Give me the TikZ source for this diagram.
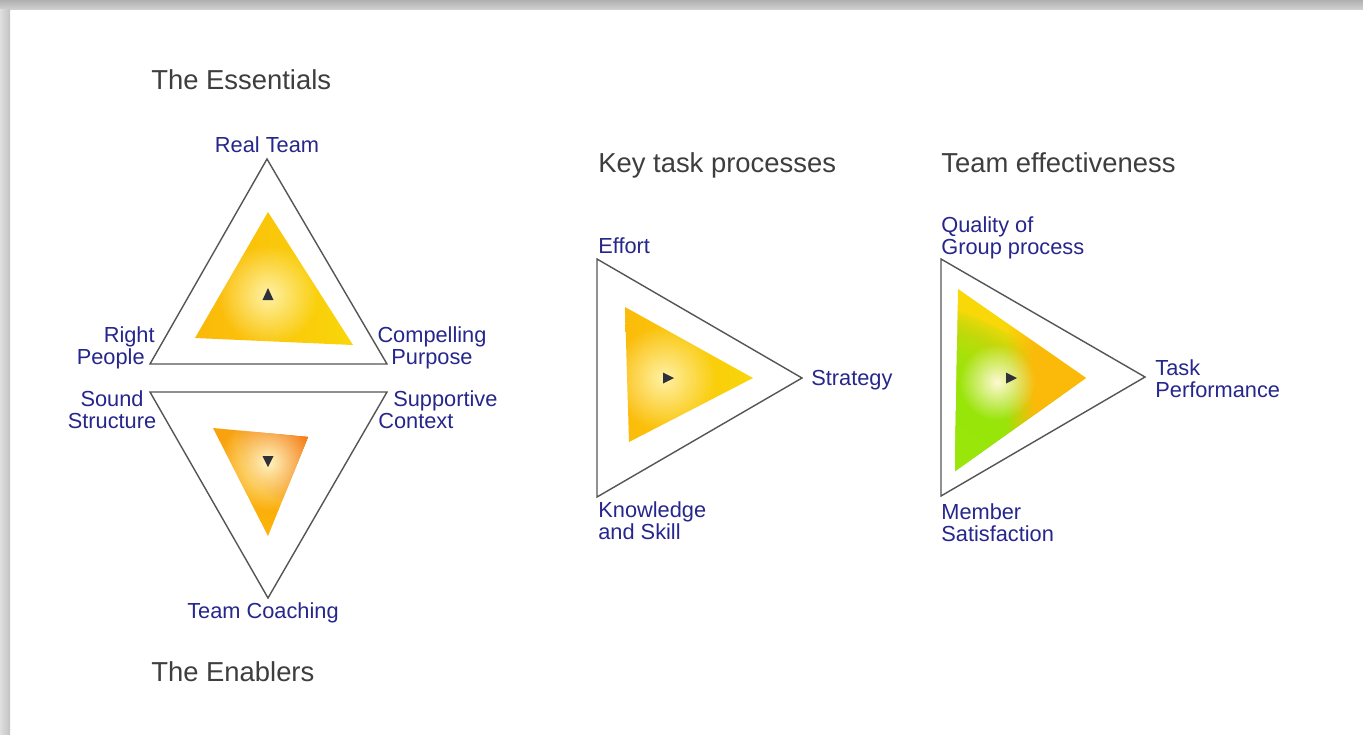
\documentclass[tikz,border=0pt]{standalone}
\usepackage{fontspec}
\setmainfont{Liberation Sans}
\usepackage{tikz}
\usetikzlibrary{positioning}
\usetikzlibrary{fadings}
\definecolor{labelblue}{RGB}{38,38,140}
\definecolor{titlegray}{RGB}{62,62,62}
\definecolor{edgegray}{RGB}{85,85,85}
\definecolor{markgray}{RGB}{48,48,58}
\definecolor{amber}{RGB}{251,186,10}
\definecolor{lemon}{RGB}{249,216,10}
\definecolor{tangerine}{RGB}{244,118,12}
\definecolor{apricot}{RGB}{249,160,15}
\definecolor{lime}{RGB}{152,232,12}
\definecolor{glow}{RGB}{255,242,165}
\tikzfading[name=softedge, inner color=transparent!0, outer color=transparent!100]
\tikzfading[name=rampright, left color=transparent!100, right color=transparent!0]
\tikzset{
  lbl/.style={text=labelblue, inner sep=0pt, font=\fontsize{12.4pt}{12.5pt}\selectfont},
  ttl/.style={text=titlegray, inner sep=0pt, anchor=north west, font=\fontsize{15.6pt}{18pt}\selectfont},
  frame/.style={draw=edgegray, line width=0.8pt, line join=miter},
  pointer/.style={fill=markgray},
  blob/.style={path fading=softedge}
}

\begin{document}
\begin{tikzpicture}[x=0.02cm, y=-0.02cm]
\useasboundingbox (0,0) rectangle (1363,734);
\fill[white] (0,0) rectangle (1363,734);
% shadow along the top and left edge
\shade[top color=gray!62, bottom color=gray!38] (0,0) rectangle (1363,9);
\shade[left color=gray!25, right color=gray!48] (0,9) rectangle (10,734);

% the essentials
\coordinate (es-top) at (267,159);
\coordinate (es-left) at (150,364);
\coordinate (es-right) at (387,364);
\begin{scope}
  \clip (268,212) -- (195,338) -- (353,345) -- cycle;
  \shade[left color=amber!95!orange, right color=lemon] (190,205) rectangle (360,350);
  \fill[glow, blob] (268,295) circle (50);
\end{scope}
\draw[frame] (es-top) -- (es-left) -- (es-right) -- cycle;
\fill[pointer] (268,288) -- (273.5,300) -- (262.5,300) -- cycle;

% the enablers
\coordinate (en-left) at (150,392);
\coordinate (en-right) at (387,392);
\coordinate (en-bottom) at (268,598);
\begin{scope}
  \clip (213,428) -- (308,437) -- (268,536) -- cycle;
  \shade[top color=apricot, bottom color=amber!90!orange] (205,425) rectangle (315,540);
  \foreach \k in {1,2,3}
    \fill[tangerine, blob] (312,433) circle (75);
  \fill[glow!70!white, blob] (268,462) circle (48);
\end{scope}
\draw[frame] (en-left) -- (en-right) -- (en-bottom) -- cycle;
\fill[pointer] (262.5,456) -- (273.5,456) -- (268,467) -- cycle;

% key task processes
\coordinate (kt-top) at (597,259);
\coordinate (kt-bottom) at (597,497);
\coordinate (kt-tip) at (802,378);
\begin{scope}
  \clip (625,307) -- (629,442) -- (753,378) -- cycle;
  \shade[left color=amber, right color=lemon] (620,300) rectangle (760,450);
  \fill[glow, blob] (664,378) circle (52);
\end{scope}
\draw[frame] (kt-top) -- (kt-tip) -- (kt-bottom) -- cycle;
\fill[pointer] (663,372.5) -- (674,378) -- (663,383.5) -- cycle;

% team effectiveness
\coordinate (te-top) at (941,259);
\coordinate (te-bottom) at (941,496);
\coordinate (te-tip) at (1145,377);
\begin{scope}
  \clip (958,289) -- (955,471) -- (1086,378) -- cycle;
  \fill[lemon] (950,280) rectangle (1095,480);
  \foreach \k in {1,...,12}
    \fill[lime, blob] (854,613) circle (320);
  \fill[amber, path fading=rampright] (1006,270) rectangle (1034,490);
  \fill[amber] (1034,270) rectangle (1100,490);
  \fill[glow!50!white, blob] (997,382) circle (38);
\end{scope}
\draw[frame] (te-top) -- (te-tip) -- (te-bottom) -- cycle;
\fill[pointer] (1006,372.5) -- (1017,378) -- (1006,383.5) -- cycle;

% titles
\node[ttl] (essentials) at (151,69) {The Essentials};
\node[ttl] (enablers) at (151,661) {The Enablers};
\node[ttl] (keytask) at (598,152) {Key task processes};
\node[ttl] (teameff) at (941,152) {Team effectiveness};

% corner labels
\node[lbl, anchor=north] (realteam) at (267,136) {Real Team};
\node[lbl, anchor=north east, align=right] (rightpeople) at (155,326) {Right\\People\rule{0.2cm}{0pt}};
\node[lbl, anchor=north, align=center] (purpose) at (432,326) {Compelling\\Purpose};
\node[lbl, anchor=north, align=center] (structure) at (112,390) {Sound\\Structure};
\node[lbl, anchor=north west, align=left] (context) at (378,390) {\rule{0.3cm}{0pt}Supportive\\Context};
\node[lbl, anchor=north] (coaching) at (263,602) {Team Coaching};
\node[lbl, anchor=north west] (effort) at (598,237) {Effort};
\node[lbl, anchor=north west] (strategy) at (811,370) {Strategy};
\node[lbl, anchor=north west, align=left] (knowledge) at (598,501) {Knowledge\\and Skill};
\node[lbl, anchor=north west, align=left] (quality) at (941,216) {Quality of\\Group process};
\node[lbl, anchor=north west, align=left] (performance) at (1155,359) {Task\\Performance};
\node[lbl, anchor=north west, align=left] (satisfaction) at (941,503) {Member\\Satisfaction};
\end{tikzpicture}
\end{document}
